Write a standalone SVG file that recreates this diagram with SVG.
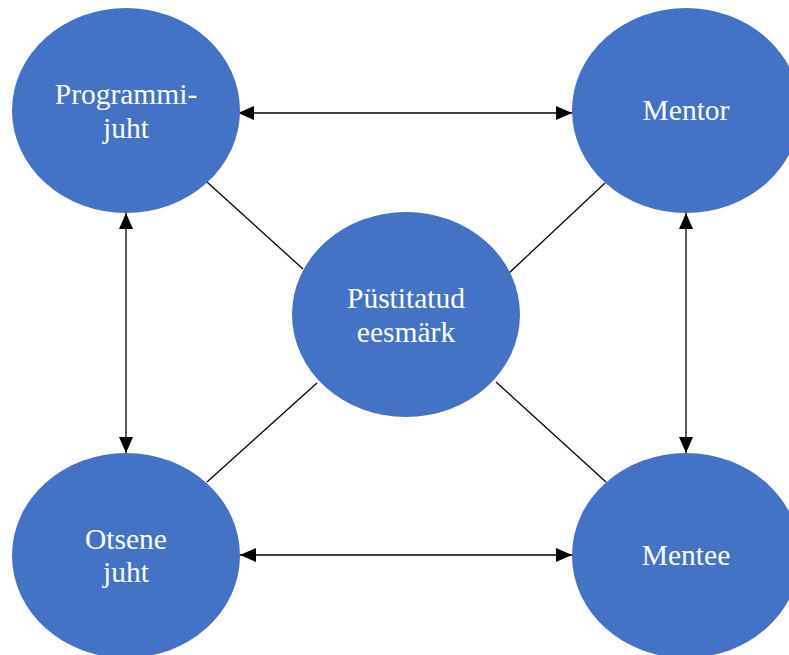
<svg xmlns="http://www.w3.org/2000/svg" width="789" height="655" viewBox="0 0 789 655">
  <style>
    .node { fill: #4472C4; }
    .label { fill: #ffffff; font-family: "Liberation Serif", "Times New Roman", serif; font-size: 29.5px; text-anchor: middle; }
    .link { stroke: #000000; stroke-width: 1.3; fill: none; }
  </style>
  <defs>
    <marker id="arrow" viewBox="0 0 16 14" refX="16" refY="7" markerWidth="16" markerHeight="14" markerUnits="userSpaceOnUse" orient="auto-start-reverse">
      <path d="M0,0 L16,7 L0,14 Z" fill="#000000"/>
    </marker>
  </defs>

  <!-- connectors -->
  <g id="connectors">
    <line class="link" x1="207" y1="182" x2="303" y2="269"/>
    <line class="link" x1="605" y1="183" x2="508" y2="274"/>
    <line class="link" x1="317" y1="383" x2="207" y2="482"/>
    <line class="link" x1="496" y1="382" x2="606" y2="482"/>
    <line class="link" x1="238" y1="113" x2="572" y2="113" marker-start="url(#arrow)" marker-end="url(#arrow)"/>
    <line class="link" x1="240" y1="555" x2="572" y2="555" marker-start="url(#arrow)" marker-end="url(#arrow)"/>
    <line class="link" x1="126" y1="213" x2="126" y2="453" marker-start="url(#arrow)" marker-end="url(#arrow)"/>
    <line class="link" x1="686" y1="213" x2="686" y2="453" marker-start="url(#arrow)" marker-end="url(#arrow)"/>
  </g>

  <g id="programmijuht">
    <ellipse class="node" cx="126" cy="110.5" rx="114" ry="102.5"/>
    <text class="label" x="126" y="104">Programmi-</text>
    <text class="label" x="126" y="138">juht</text>
  </g>

  <g id="mentor">
    <ellipse class="node" cx="686" cy="110.5" rx="114" ry="102.5"/>
    <text class="label" x="686" y="120">Mentor</text>
  </g>

  <g id="eesmark">
    <ellipse class="node" cx="406" cy="314.5" rx="114" ry="102.5"/>
    <text class="label" x="406" y="308">Püstitatud</text>
    <text class="label" x="406" y="342">eesmärk</text>
  </g>

  <g id="otsene-juht">
    <ellipse class="node" cx="126" cy="555.5" rx="114" ry="102.5"/>
    <text class="label" x="126" y="549">Otsene</text>
    <text class="label" x="126" y="582">juht</text>
  </g>

  <g id="mentee">
    <ellipse class="node" cx="686" cy="555.5" rx="114" ry="102.5"/>
    <text class="label" x="686" y="565">Mentee</text>
  </g>
</svg>
